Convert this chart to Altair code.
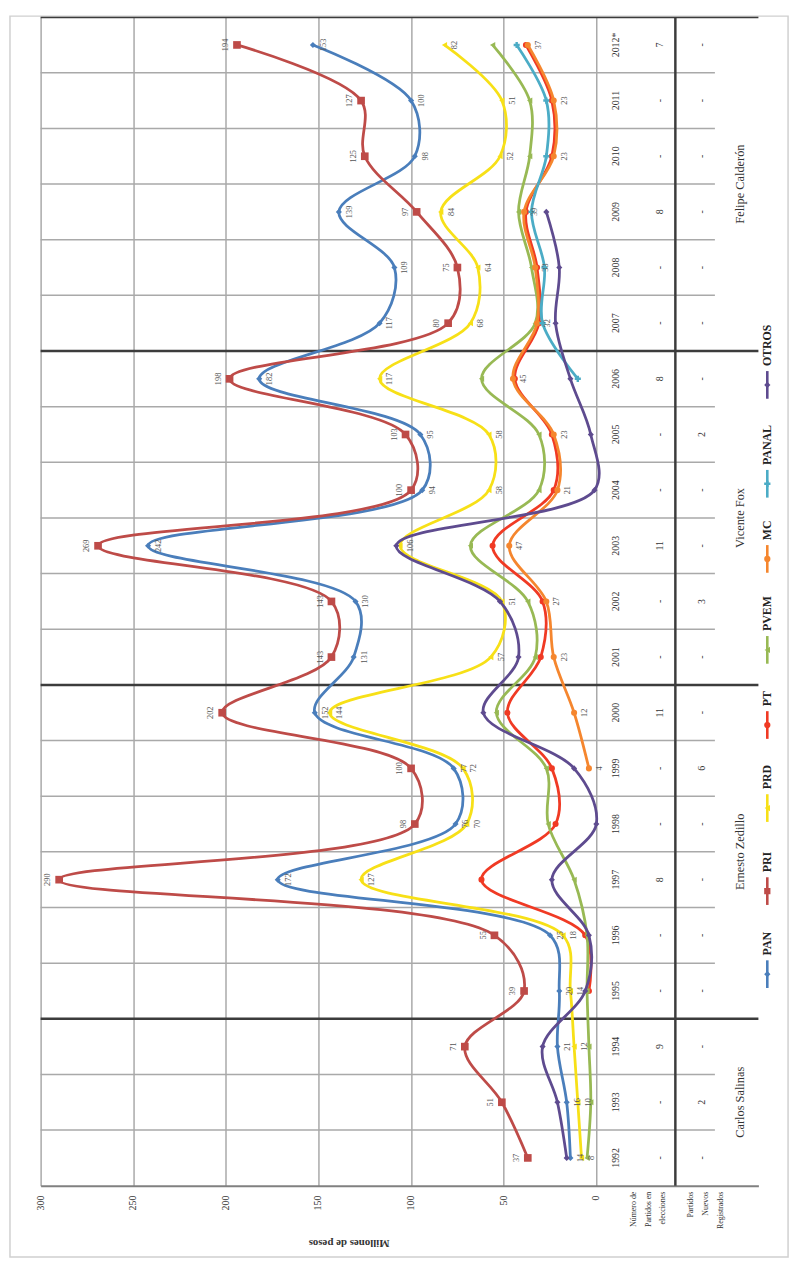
import altair as alt
import pandas as pd

# ---------------- data ----------------
years = list(range(1992, 2013))
parties = ["PAN", "PRI", "PRD", "PT", "PVEM", "MC", "PANAL", "OTROS"]
N = None
pan   = [14, 16, 21, 20, 25, 172, 76, 77, 152, 131, 130, 242, 94, 95, 182, 117, 109, 139, 98, 100, 153]
pri   = [37, 51, 71, 39, 55, 290, 98, 100, 202, 143, 143, 269, 100, 103, 198, 80, 75, 97, 125, 127, 194]
prd   = [8, 10, 12, 14, 18, 127, 70, 72, 144, 57, 51, 106, 58, 58, 117, 68, 64, 84, 52, 51, 82]
pt    = [N, N, N, 4, 6, 62, 22, 24, 48, 30, 29, 56, 23, 24, 44, 31, 32, 38, 24, 24, 38]
pvem  = [5, 3, 4, 5, 5, 12, 26, 27, 54, 33, 37, 68, 31, 31, 62, 33, 35, 42, 36, 36, 56]
mc    = [N, N, N, N, N, N, N, 4, 12, 23, 27, 47, 21, 23, 45, 32, 33, 39, 23, 23, 37]
panal = [N, N, N, N, N, N, N, N, N, N, N, N, N, N, 10, 29, 28, 35, 27, 27, 43]
otros = [16, 21, 29, 6, 4, 24, 0, 12, 61, 42, 52, 108, 1, 3, 14, 22, 20, 27, N, N, N]
series = [pan, pri, prd, pt, pvem, mc, panal, otros]
labelled = ["PAN", "PRI", "PRD", "MC"]

colors = ["#4A7EBB", "#BE4B48", "#F7E017", "#F03A24", "#98B954", "#F5862E", "#4BACC6", "#5E4B8F"]
shapes = ["diamond", "square", "triangle-left", "circle", "triangle-left", "circle", "cross", "diamond"]

year_labels = [str(y) for y in years[:-1]] + ["2012*"]
n_parties   = ["-", "-", "9", "-", "-", "8", "-", "-", "11", "-", "-", "11", "-", "-", "8", "-", "-", "8", "-", "-", "7"]
new_parties = ["-", "2", "-", "-", "-", "-", "-", "6", "-", "-", "3", "-", "-", "2", "-", "-", "-", "-", "-", "-", "-"]
presidents = ["Carlos Salinas", "Ernesto Zedillo", "Vicente Fox", "Felipe Calderón"]
president_mid = [1993, 1997.5, 2003.5, 2009.5]
term_bounds = [1994.5, 2000.5, 2006.5, 2012.5]
value_ticks = [0, 50, 100, 150, 200, 250, 300]

# ---------------- layout ----------------
W, H = 726, 1182
FONT = "Liberation Serif"
rows = []
for p, vals in zip(parties, series):
    for y, v in zip(years, vals):
        if v is not None:
            rows.append({"year": y, "party": p, "value": v})
df = pd.DataFrame(rows)

xscale = alt.Scale(domain=[-87.5, 300], reverse=True, nice=False, zero=False)
yscale = alt.Scale(domain=[1991.5, 2012.5], nice=False, zero=False)
X = alt.X("value:Q", scale=xscale,
          axis=alt.Axis(values=value_ticks, labels=False, grid=True, gridColor="#a9a9a9",
                        gridWidth=1.5, domainColor="#808080", domainWidth=2, ticks=False,
                        title=None))
Y = alt.Y("year:Q", scale=yscale, axis=None)
C = alt.Color("party:N", scale=alt.Scale(domain=parties, range=colors), legend=None)
S = alt.Shape("party:N", scale=alt.Scale(domain=parties, range=shapes), legend=None)

layers = []

# year separators
sep_df = pd.DataFrame({"year": [y + 0.5 for y in years[:-1] if (y + 0.5) not in term_bounds]})
layers.append(alt.Chart(sep_df).mark_rule(color="#a9a9a9", strokeWidth=1.5)
              .encode(y=Y, x=alt.value(0), x2=alt.value(682)))
term_df = pd.DataFrame({"year": term_bounds})
layers.append(alt.Chart(term_df).mark_rule(color="#3c3c3c", strokeWidth=2.5)
              .encode(y=Y, x=alt.value(0), x2=alt.value(726)))
layers.append(alt.Chart(pd.DataFrame({"k": [0]})).mark_rule(color="#3c3c3c", strokeWidth=2.5)
              .encode(x=alt.value(642), y=alt.value(0), y2=alt.value(H)))

# frame
layers.append(alt.Chart(pd.DataFrame({"k": [0]})).mark_rect(filled=False, stroke="#d0d0d0", strokeWidth=1.5)
              .encode(x=alt.value(-31), x2=alt.value(756), y=alt.value(-1), y2=alt.value(1254)))

# series
for i, p in enumerate(parties):
    sub = df[df.party == p]
    layers.append(alt.Chart(sub).mark_line(interpolate="catmull-rom", strokeWidth=2.8)
                  .encode(x=X, y=Y, color=C, order="year:Q"))
    layers.append(alt.Chart(sub).mark_point(filled=True, size=60 if p == "PRI" else 38, opacity=1)
                  .encode(x=X, y=Y, color=C, shape=S))

# data labels
for p in labelled:
    sub = df[df.party == p]
    if p == "PRI":
        mk = alt.Chart(sub).mark_text(angle=270, font=FONT, fontSize=8.5, color="#555",
                                      baseline="bottom", dy=-7)
    else:
        mk = alt.Chart(sub).mark_text(angle=270, font=FONT, fontSize=8.5, color="#555",
                                      baseline="top", dy=6)
    layers.append(mk.encode(x=X, y=Y, text="value:Q"))

# value axis labels (rotated)
ticks_df = pd.DataFrame({"value": value_ticks})
layers.append(alt.Chart(ticks_df).mark_text(angle=270, font=FONT, fontSize=10, color="#333",
                                            align="right", baseline="middle")
              .encode(x=X, y=alt.value(H + 10), text="value:Q"))

# table text
tab = pd.DataFrame({"year": years, "ylab": year_labels, "np": n_parties, "nn": new_parties})
layers.append(alt.Chart(tab).mark_text(angle=270, font=FONT, fontSize=10, color="#333")
              .encode(y=Y, x=alt.value(582), text="ylab:N"))
layers.append(alt.Chart(tab).mark_text(angle=270, font=FONT, fontSize=10, color="#333")
              .encode(y=Y, x=alt.value(626), text="np:N"))
layers.append(alt.Chart(tab).mark_text(angle=270, font=FONT, fontSize=10, color="#333")
              .encode(y=Y, x=alt.value(669), text="nn:N"))
pres = pd.DataFrame({"year": president_mid, "name": presidents})
layers.append(alt.Chart(pres).mark_text(angle=270, font=FONT, fontSize=12.5, color="#333")
              .encode(y=Y, x=alt.value(707), text="name:N"))

# header labels below table
hdr = pd.DataFrame({"t": ["Número de\nPartidos en\nelecciones", "Partidos\nNuevos\nRegistrados"],
                    "px": [596, 654]})
layers.append(alt.Chart(hdr).mark_text(angle=270, font=FONT, fontSize=8, color="#333",
                                       align="right", baseline="top", lineBreak="\n", lineHeight=15)
              .encode(x=alt.X("px:Q", scale=None), y=alt.value(H + 6), text="t:N"))

# axis title (upside down)
layers.append(alt.Chart(pd.DataFrame({"t": ["Millones de pesos"]}))
              .mark_text(angle=180, font=FONT, fontSize=11, fontWeight="bold", color="#333")
              .encode(x=alt.value(312), y=alt.value(1240), text="t:N"))

# legend (vertical, rotated)
leg_rows = []
c = 968
for p in parties:
    leg_rows.append({"party": p, "c": c, "a": c + 14, "b": c - 14, "t": c - 19})
    c -= 60 + 8 * len(p)
leg = pd.DataFrame(leg_rows)
LX = 735
layers.append(alt.Chart(leg).mark_rule(strokeWidth=2.6)
              .encode(x=alt.value(LX), y=alt.Y("a:Q", scale=None), y2="b:Q", color=C))
layers.append(alt.Chart(leg).mark_point(filled=True, size=40, opacity=1)
              .encode(x=alt.value(LX), y=alt.Y("c:Q", scale=None), color=C, shape=S))
layers.append(alt.Chart(leg).mark_text(angle=270, font=FONT, fontSize=12, fontWeight="bold",
                                       color="#222", align="left", baseline="middle")
              .encode(x=alt.value(LX), y=alt.Y("t:Q", scale=None), text="party:N"))

chart = alt.layer(*layers).properties(
    width=W, height=H, autosize="none",
    padding={"left": 33, "top": 2, "right": 36, "bottom": 78}
).configure_view(stroke=None)

chart.save("out.html", embed_options={"renderer": "svg", "actions": False})
